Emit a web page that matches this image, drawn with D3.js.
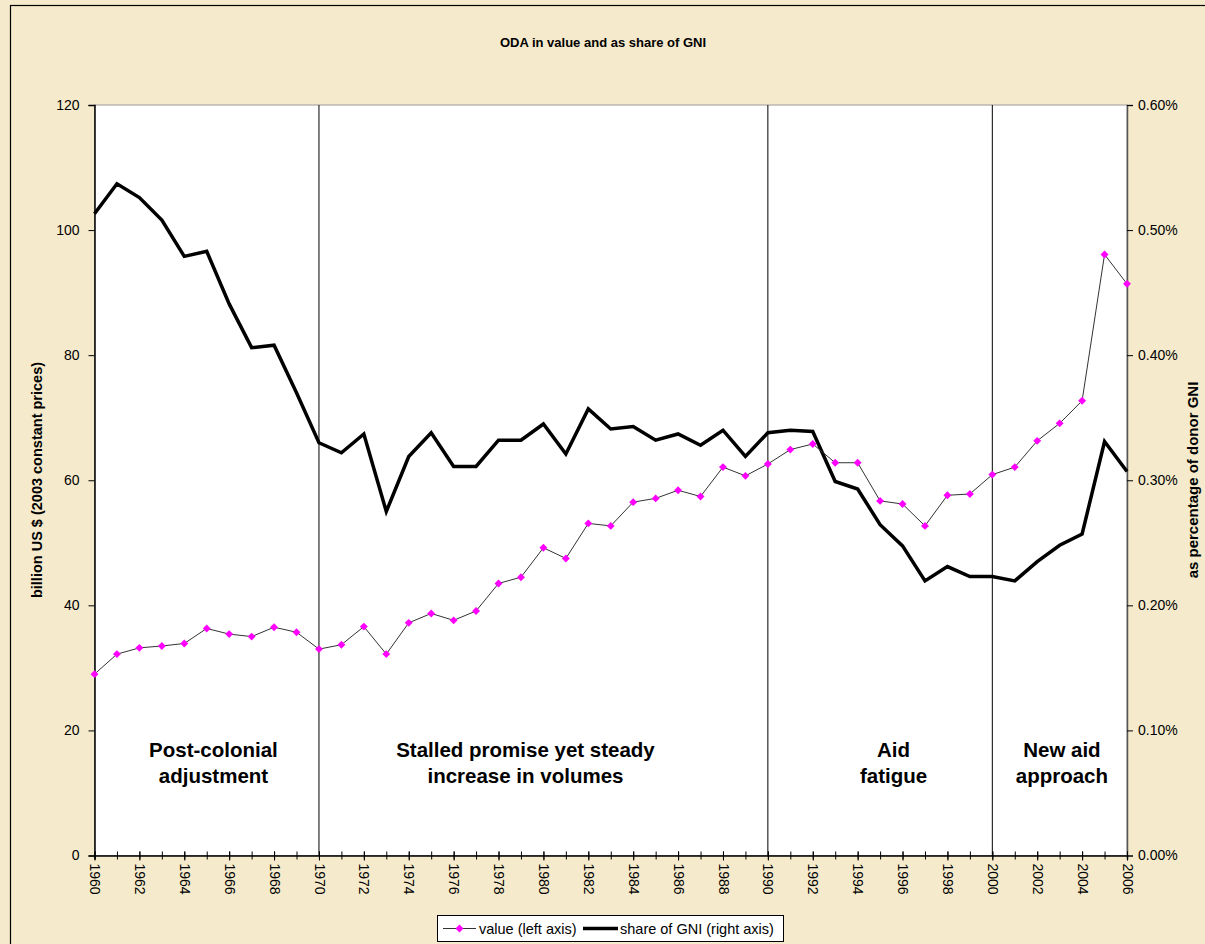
<!DOCTYPE html>
<html>
<head>
<meta charset="utf-8">
<style>
    body { margin: 0; background: #f5ebcc; }
    text { font-family: "Liberation Sans", Arial, sans-serif; }
</style>
</head>
<body>
<script src="https://d3js.org/d3.v7.min.js"></script>
<script>
    const width = 1205;
    const height = 944;

    // data
    const years = d3.range(1960, 2007);
    const value = [29.0, 32.2, 33.2, 33.5, 33.9, 36.3, 35.4, 35.0, 36.5, 35.7,
                   33.0, 33.7, 36.6, 32.2, 37.2, 38.7, 37.6, 39.1, 43.5, 44.5,
                   49.2, 47.5, 53.1, 52.7, 56.5, 57.1, 58.4, 57.4, 62.1, 60.7,
                   62.6, 64.9, 65.8, 62.8, 62.8, 56.7, 56.2, 52.7, 57.6, 57.8,
                   60.9, 62.1, 66.3, 69.1, 72.7, 96.1, 91.4];
    const share = [0.513, 0.537, 0.526, 0.508, 0.479, 0.483, 0.441, 0.406, 0.408, 0.370,
                   0.330, 0.322, 0.337, 0.275, 0.319, 0.338, 0.311, 0.311, 0.332, 0.332,
                   0.345, 0.321, 0.357, 0.341, 0.343, 0.332, 0.337, 0.328, 0.340, 0.319,
                   0.338, 0.340, 0.339, 0.299, 0.293, 0.2645, 0.2475, 0.2195, 0.231, 0.223,
                   0.223, 0.2195, 0.235, 0.248, 0.257, 0.331, 0.307];
    const leftTicks = [0, 20, 40, 60, 80, 100, 120];
    const rightTicks = [0, 0.1, 0.2, 0.3, 0.4, 0.5, 0.6];
    const dividers = [1970, 1990, 2000];
    const periodNames = [
        ["Post-colonial", "adjustment"],
        ["Stalled promise yet steady", "increase in volumes"],
        ["Aid", "fatigue"],
        ["New aid", "approach"]
    ];
    // where each period label sits along the year axis
    const periodAt = [1965.3, 1979.2, 1995.6, 2003.1];

    const plot = {left: 94.5, right: 1127, top: 105, bottom: 855.5};

    const x = d3.scaleLinear().domain([1960, 2006]).range([plot.left, plot.right]);
    const yL = d3.scaleLinear().domain([0, 120]).range([plot.bottom, plot.top]);
    const yR = d3.scaleLinear().domain([0, 0.6]).range([plot.bottom, plot.top]);

    const svg = d3.select("body").append("svg").attr("width", width).attr("height", height);

    svg.append("rect").attr("width", width).attr("height", height).attr("fill", "#f5ebcc");
    // outer chart border (left and top visible)
    svg.append("rect").attr("x", 10.5).attr("y", 5.5).attr("width", 1300).attr("height", 1000)
        .attr("fill", "none").attr("stroke", "#000").attr("stroke-width", 1.2);

    svg.append("rect")
        .attr("x", plot.left).attr("y", plot.top)
        .attr("width", plot.right - plot.left).attr("height", plot.bottom - plot.top)
        .attr("fill", "#fff").attr("stroke", "#999").attr("stroke-width", 1);

    svg.append("text").attr("x", 603).attr("y", 47).attr("text-anchor", "middle")
        .attr("font-size", 13).attr("font-weight", "bold").text("ODA in value and as share of GNI");

    // dividers
    svg.selectAll(".div").data(dividers).enter().append("line")
        .attr("x1", d => x(d)).attr("x2", d => x(d))
        .attr("y1", plot.top).attr("y2", plot.bottom)
        .attr("stroke", "#000").attr("stroke-width", 1);

    // axes
    const gL = svg.append("g").attr("transform", `translate(${plot.left},0)`)
        .call(d3.axisLeft(yL).tickValues(leftTicks).tickSize(6).tickPadding(9));
    const gR = svg.append("g").attr("transform", `translate(${plot.right},0)`)
        .call(d3.axisRight(yR).tickValues(rightTicks).tickSize(6).tickPadding(5)
            .tickFormat(d => d.toFixed(2) + "%"));
    const gX = svg.append("g").attr("transform", `translate(0,${plot.bottom})`)
        .call(d3.axisBottom(x).tickValues(years).tickSize(4).tickFormat(""));
    gX.selectAll(".tick line").attr("y1", -4);
    const gX2 = svg.append("g").attr("transform", `translate(0,${plot.bottom})`)
        .call(d3.axisBottom(x).tickValues(years.filter(d => d % 2 == 0)).tickSize(5)
            .tickFormat(d => d));
    gX2.select(".domain").remove();
    gX2.selectAll(".tick line").attr("y1", -4);
    gX2.selectAll(".tick text")
        .attr("transform", "rotate(90)")
        .attr("text-anchor", "start").attr("dy", "0.35em").attr("x", 8).attr("y", 0);

    [gL, gR, gX, gX2].forEach(g => {
        g.selectAll("text").attr("font-size", 14).attr("fill", "#000")
            .attr("font-family", "'Liberation Sans', Arial, sans-serif");
        g.selectAll("line").attr("stroke", "#000");
        g.select(".domain").attr("stroke", "#000").attr("stroke-width", 1.5);
    });
    gR.select(".domain").attr("stroke", "#555");

    // axis titles
    svg.append("text").attr("transform", "translate(42,480) rotate(-90)")
        .attr("text-anchor", "middle").attr("font-size", 14.5).attr("font-weight", "bold")
        .text("billion US $ (2003 constant prices)");
    svg.append("text").attr("transform", "translate(1198,480) rotate(-90)")
        .attr("text-anchor", "middle").attr("font-size", 15).attr("font-weight", "bold")
        .text("as percentage of donor GNI");

    // series
    svg.append("path").datum(share)
        .attr("d", d3.line().x((d, i) => x(years[i])).y(d => yR(d)))
        .attr("fill", "none").attr("stroke", "#000").attr("stroke-width", 3.5)
        .attr("stroke-linejoin", "miter");

    svg.append("path").datum(value)
        .attr("d", d3.line().x((d, i) => x(years[i])).y(d => yL(d)))
        .attr("fill", "none").attr("stroke", "#333").attr("stroke-width", 1);

    const diamond = d3.symbol().type(d3.symbolDiamond2).size(40);
    svg.selectAll(".pt").data(value).enter().append("path")
        .attr("transform", (d, i) => `translate(${x(years[i])},${yL(d)})`)
        .attr("d", diamond).attr("fill", "#ff00ff");

    // period labels
    periodNames.forEach((lines, k) => {
        const cx = x(periodAt[k]);
        lines.forEach((t, j) => {
            svg.append("text").attr("x", cx).attr("y", 757 + j * 26)
                .attr("text-anchor", "middle").attr("font-size", 20.5).attr("font-weight", "bold")
                .text(t);
        });
    });

    // legend
    const lg = svg.append("g");
    lg.append("rect").attr("x", 437.5).attr("y", 915.5).attr("width", 346).attr("height", 26)
        .attr("fill", "#fff").attr("stroke", "#000").attr("stroke-width", 1);
    lg.append("line").attr("x1", 443).attr("x2", 476).attr("y1", 928.5).attr("y2", 928.5)
        .attr("stroke", "#333").attr("stroke-width", 1);
    lg.append("path").attr("transform", "translate(459.5,928.5)").attr("d", diamond).attr("fill", "#ff00ff");
    lg.append("text").attr("x", 479).attr("y", 933.5).attr("font-size", 14.5).text("value (left axis)");
    lg.append("line").attr("x1", 583).attr("x2", 618).attr("y1", 928.5).attr("y2", 928.5)
        .attr("stroke", "#000").attr("stroke-width", 3.5);
    lg.append("text").attr("x", 620).attr("y", 933.5).attr("font-size", 14.5).text("share of GNI (right axis)");
</script>
</body>
</html>
